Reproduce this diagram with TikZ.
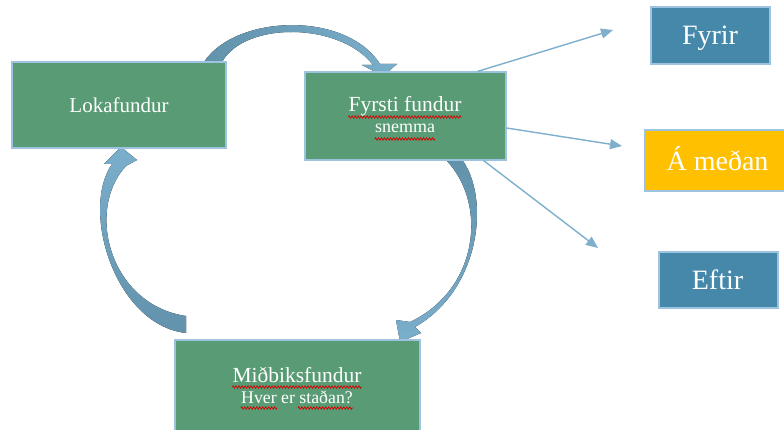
\documentclass[tikz,border=0pt]{standalone}
\usepackage{fontspec}
\setmainfont{Liberation Serif}
\usetikzlibrary{arrows.meta,decorations.pathmorphing}
\definecolor{boxgreen}{RGB}{88,155,116}
\definecolor{boxblue}{RGB}{69,136,170}
\definecolor{boxyellow}{RGB}{255,192,0}
\definecolor{edgeblue}{RGB}{157,195,225}
\definecolor{arrlight}{RGB}{122,175,203}
\definecolor{arrdark}{RGB}{98,146,172}
\definecolor{linkblue}{RGB}{126,175,204}
\begin{document}
\begin{tikzpicture}[x=1pt,y=-1pt,
  box/.style={draw=edgeblue,line width=1.2pt,inner sep=0pt},
  txt/.style={text=white,inner sep=0pt,anchor=base},
  link/.style={draw=linkblue,line width=1.4pt,-{Triangle[length=12pt,width=10pt]}},
  wavy/.style={draw=red!85!black,line width=0.7pt,decorate,decoration={zigzag,amplitude=1.2pt,segment length=3pt}}]
\clip (0,0) rectangle (784,430);
\fill[white] (0,0) rectangle (784,430);
% curved arrows
\fill[left color=arrdark,middle color=arrlight,right color=arrlight]
  (204,62) .. controls (235,15) and (345,10) .. (380,64) -- (397,64) -- (383,76) -- (362,65) -- (373,65)
  .. controls (340,22) and (245,21) .. (222,62) -- cycle;
\fill[top color=arrdark,middle color=arrlight,bottom color=arrlight]
  (463,161) .. controls (490,200) and (480,290) .. (415,327) -- (421,333) -- (400,342) -- (396,320) -- (410,322)
  .. controls (478,290) and (488,205) .. (447,161) -- cycle;
\fill[bottom color=arrdark,middle color=arrlight,top color=arrlight]
  (186,333) .. controls (115,325) and (80,210) .. (112,164) -- (104,164) -- (121,147) -- (137,160) -- (126,166)
  .. controls (85,210) and (110,305) .. (186,316) -- cycle;
% boxes
\node[box,fill=boxgreen,minimum width=214pt,minimum height=86pt] (loka) at (119,105) {};
\node[box,fill=boxgreen,minimum width=201pt,minimum height=88pt] (fyrsti) at (405.5,116) {};
\node[box,fill=boxgreen,minimum width=245pt,minimum height=100pt] (midbik) at (297.5,390) {};
\node[box,fill=boxblue,minimum width=119pt,minimum height=57pt] (fyrir) at (710.5,35.5) {};
\node[box,fill=boxyellow,minimum width=145pt,minimum height=61pt] (medan) at (717.5,160.5) {};
\node[box,fill=boxblue,minimum width=119pt,minimum height=56pt] (eftir) at (718.5,280) {};
% texts
\node[txt,font=\fontsize{21}{21}\selectfont] (tloka) at (119,113) {Lokafundur};
\node[txt,font=\fontsize{21.5}{21.5}\selectfont] (tf1) at (405,112) {Fyrsti fundur};
\node[txt,font=\fontsize{18}{18}\selectfont] (tf2) at (405,133) {snemma};
\node[txt,font=\fontsize{21.5}{21.5}\selectfont] (tm1) at (297,382) {Miðbiksfundur};
\node[txt,font=\fontsize{17.8}{17.8}\selectfont] (tm2) at (297,403) {Hver er staðan?};
\node[txt,font=\fontsize{28}{28}\selectfont] (tfyrir) at (710,45) {Fyrir};
\node[txt,font=\fontsize{28}{28}\selectfont] (tmedan) at (717.5,170.5) {Á meðan};
\node[txt,font=\fontsize{28}{28}\selectfont] (teftir) at (717.5,290) {Eftir};
% spell-check underlines
\draw[wavy] ([yshift=-5pt]tf1.base west) -- ([yshift=-5pt]tf1.base east);
\draw[wavy] ([yshift=-6pt]tf2.base west) -- ([yshift=-6pt]tf2.base east);
\draw[wavy] ([yshift=-5pt]tm1.base west) -- ([yshift=-5pt]tm1.base east);
\coordinate (hv) at (277,408);
\draw[wavy] ([yshift=-5pt]tm2.base west) -- (hv);
\coordinate (st1) at (298,408);
\draw[wavy] (st1) -- ([yshift=-5pt]tm2.base east);
% straight arrows
\coordinate (f1) at (613,30);
\coordinate (f2) at (622,146);
\coordinate (f3) at (598,248);
\draw[link] ([xshift=-29pt]fyrsti.north east) -- (f1);
\draw[link] ([yshift=-12pt]fyrsti.east) -- (f2);
\draw[link] ([xshift=-23pt]fyrsti.south east) -- (f3);
\end{tikzpicture}
\end{document}
